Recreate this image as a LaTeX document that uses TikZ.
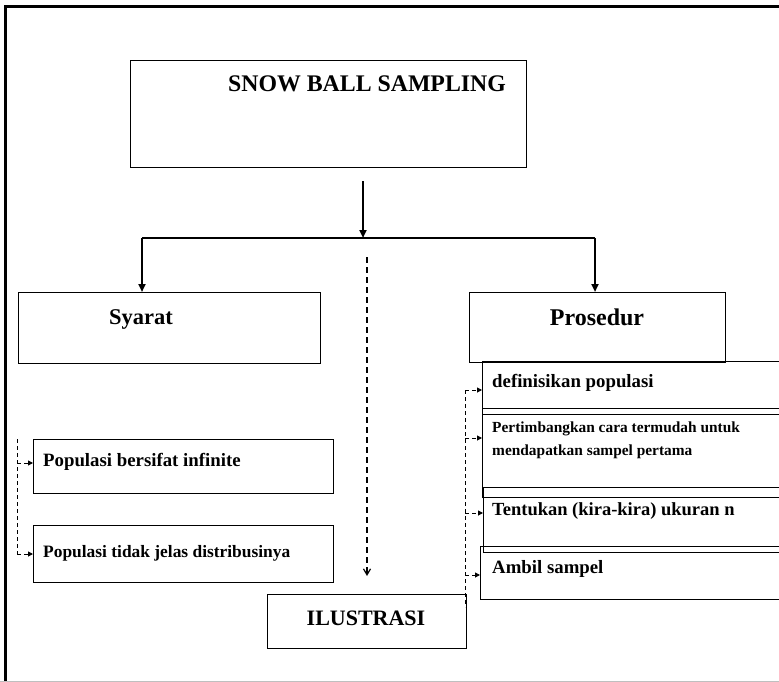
\documentclass[tikz,border=0pt]{standalone}
\usepackage{fontspec}
\setmainfont{Liberation Serif}
\usetikzlibrary{arrows.meta}

\newcommand{\fsz}[1]{\fontsize{#1}{1.2\dimexpr#1pt\relax}\selectfont}

\tikzset{
  frameline/.style={line width=3pt},
  box/.style={draw, line width=1.3pt, inner sep=0pt, anchor=north west},
  mainarrow/.style={line width=2pt, -{Triangle[length=8pt,width=7pt]}},
  mainline/.style={line width=2pt},
  guide/.style={line width=1pt, dash pattern=on 4pt off 3pt},
  guidearrow/.style={guide, -{Triangle[length=5pt,width=5pt]}},
  longdash/.style={line width=1.2pt, dash pattern=on 6pt off 4pt,
                   -{Straight Barb[length=6pt,width=7pt]}},
  txt/.style={inner sep=0pt, font=\bfseries},
}

\begin{document}
\begin{tikzpicture}[x=1pt, y=-1pt]
  \useasboundingbox (0,0) rectangle (779,682);
  \clip (0,0) rectangle (779,682);

  % page frame
  \draw[frameline] (5.5,700) -- (5.5,7) -- (800,7);
  \draw[gray!50, line width=1pt] (0,681.5) -- (779,681.5);

  % top box
  \node[box, minimum width=396pt, minimum height=107pt] (snow) at (130,60) {};
  \node[txt, anchor=base, font=\bfseries\fsz{23.8}] (snowt) at (367,92) {SNOW BALL SAMPLING};

  % branch boxes
  \node[box, minimum width=302pt, minimum height=71pt] (syarat) at (18,292) {};
  \node[txt, anchor=base, font=\bfseries\fsz{22.5}] (syaratt) at (141,324) {Syarat};

  \node[box, minimum width=256pt, minimum height=70pt] (prosedur) at (469,292) {};
  \node[txt, anchor=base, font=\bfseries\fsz{24}] (prosedurt) at (597,325) {Prosedur};

  % conditions
  \node[box, minimum width=300pt, minimum height=54pt] (pop1) at (33,439) {};
  \node[txt, anchor=base west, font=\bfseries\fsz{18.8}] (pop1t) at (43,466) {Populasi bersifat infinite};

  \node[box, minimum width=300pt, minimum height=57pt] (pop2) at (33,525) {};
  \node[txt, anchor=base west, font=\bfseries\fsz{17.4}] (pop2t) at (43,557) {Populasi tidak jelas distribusinya};

  % procedure steps
  \node[box, minimum width=340pt, minimum height=53pt] (s1) at (482,361) {};
  \node[box, minimum width=340pt, minimum height=89pt] (s2) at (482,408) {};
  \node[box, minimum width=340pt, minimum height=65pt] (s3) at (483,487) {};
  \node[box, minimum width=340pt, minimum height=53pt] (s4) at (480,546) {};

  \node[txt, anchor=base west, font=\bfseries\fsz{18.8}] (s1t) at (492,387) {definisikan populasi};
  \node[txt, anchor=base west, font=\bfseries\fsz{15.4}] (s2ta) at (492,432) {Pertimbangkan cara termudah untuk};
  \node[txt, anchor=base west, font=\bfseries\fsz{15.4}] (s2tb) at (492,455) {mendapatkan sampel pertama};
  \node[txt, anchor=base west, font=\bfseries\fsz{18.5}] (s3t) at (492,515) {Tentukan (kira-kira) ukuran n};
  \node[txt, anchor=base west, font=\bfseries\fsz{18.8}] (s4t) at (492,573) {Ambil sampel};

  % illustration box
  \node[box, minimum width=199pt, minimum height=54pt] (ilus) at (267,594) {};
  \node[txt, anchor=base, font=\bfseries\fsz{22}] (ilust) at (366,625) {ILUSTRASI};

  % main branching connectors
  \coordinate (stem) at (363,181);
  \coordinate (fork) at (363,238);
  \coordinate (hl) at (142,238);
  \coordinate (hr) at (595,238);
  \draw[mainarrow] (stem) -- (fork);
  \draw[mainline] (hl) -- (hr);
  \draw[mainarrow] (hl) -- (hl |- syarat.north);
  \draw[mainarrow] (hr) -- (hr |- prosedur.north);

  % dashed link towards the illustration
  \coordinate (dtop) at (367,257);
  \coordinate (dend) at (367,576);
  \draw[longdash] (dtop) -- (dend);

  % bracket for the conditions
  \coordinate (lb1) at (17,463);
  \coordinate (lb2) at (17,554);
  \draw[guide] (17,439) -- (lb2);
  \draw[guidearrow] (lb1) -- (pop1.west |- lb1);
  \draw[guidearrow] (lb2) -- (pop2.west |- lb2);

  % bracket for the procedure steps
  \coordinate (rb1) at (465,390);
  \coordinate (rb2) at (465,438);
  \coordinate (rb3) at (465,513);
  \coordinate (rb4) at (465,575);
  \coordinate (rbend) at (465,607);
  \draw[guide] (rb1) -- (rbend);
  \draw[guidearrow] (rb1) -- (s1.west |- rb1);
  \draw[guidearrow] (rb2) -- (s2.west |- rb2);
  \draw[guidearrow] (rb3) -- (s3.west |- rb3);
  \draw[guidearrow] (rb4) -- (s4.west |- rb4);
\end{tikzpicture}
\end{document}
